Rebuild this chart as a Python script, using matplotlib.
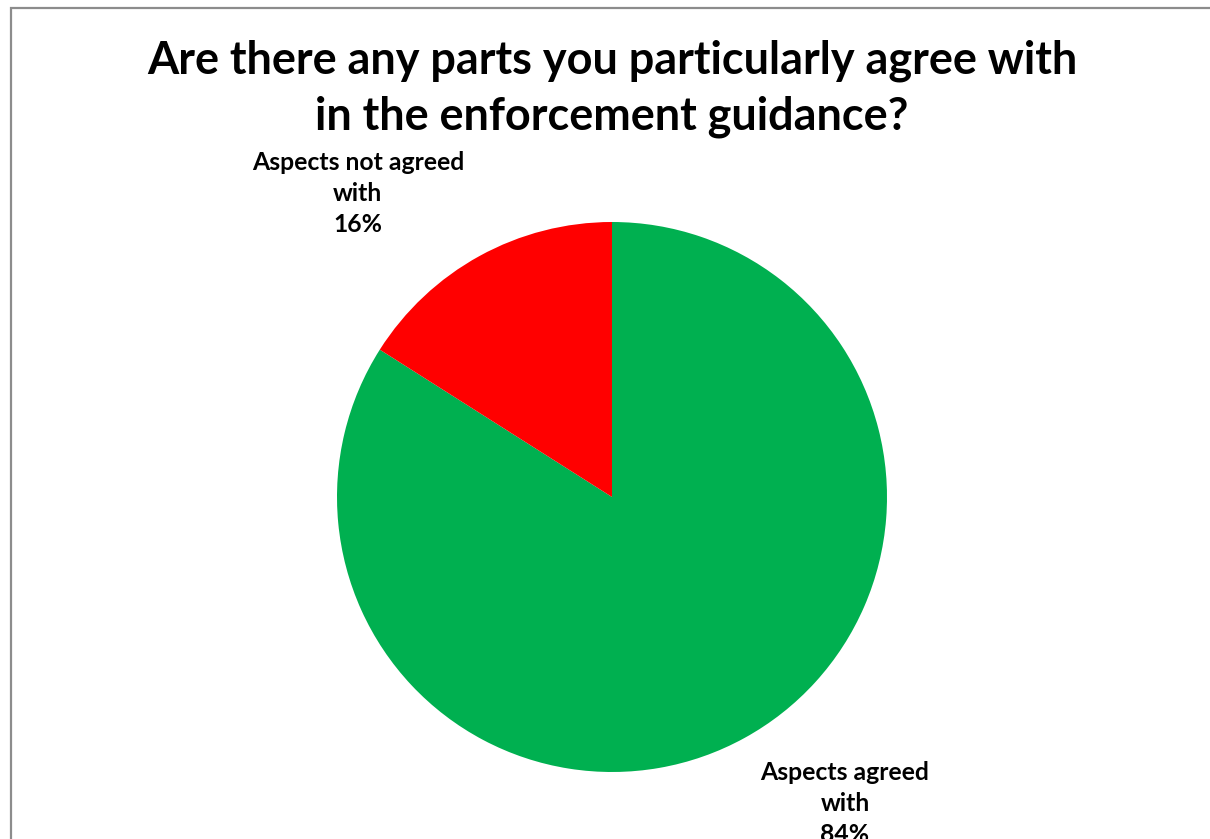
import matplotlib.pyplot as plt
from matplotlib.patches import Rectangle

plt.rcParams['font.family'] = ['Lato', 'DejaVu Sans']

title_lines = ["Are there any parts you particularly agree with",
               "in the enforcement guidance?"]
labels = ["Aspects agreed\nwith", "Aspects not agreed\nwith"]
values = [84, 16]
colors = ["#00B050", "#FF0000"]

W, H = 1210, 839
fig = plt.figure(figsize=(W / 100, H / 100), dpi=100)

# chart-area frame, running off the right and bottom edges
fig.patches.append(Rectangle((11 / W, -0.1), 1.2, 1 - 8.5 / H + 0.1,
                             transform=fig.transFigure, fill=False,
                             edgecolor="#8c8c8c", linewidth=1.6))

for line, base in zip(title_lines, [73, 130]):
    fig.text(612 / W, 1 - base / H, line, ha="center", va="baseline",
             fontsize=32.4, fontweight="bold")

# pie: centre (612, 497) px, radius 275 px
cx, cy, r = 612, 497, 275
ax = fig.add_axes([(cx - r) / W, (H - cy - r) / H, 2 * r / W, 2 * r / H])
ax.pie(values, colors=colors, startangle=90, counterclock=False, radius=1,
       wedgeprops=dict(linewidth=0))
ax.set_xlim(-1, 1)
ax.set_ylim(-1, 1)
ax.set_aspect("auto")
ax.axis("off")

label_pos = [(0.847, -1.113), (-0.924, 1.102)]
for lab, v, (x, y) in zip(labels, values, label_pos):
    ax.text(x, y, f"{lab}\n{v}%", ha="center", va="center", fontsize=17.8,
            fontweight="bold", linespacing=1.42, clip_on=False)

fig.savefig("out.png", dpi=100)
